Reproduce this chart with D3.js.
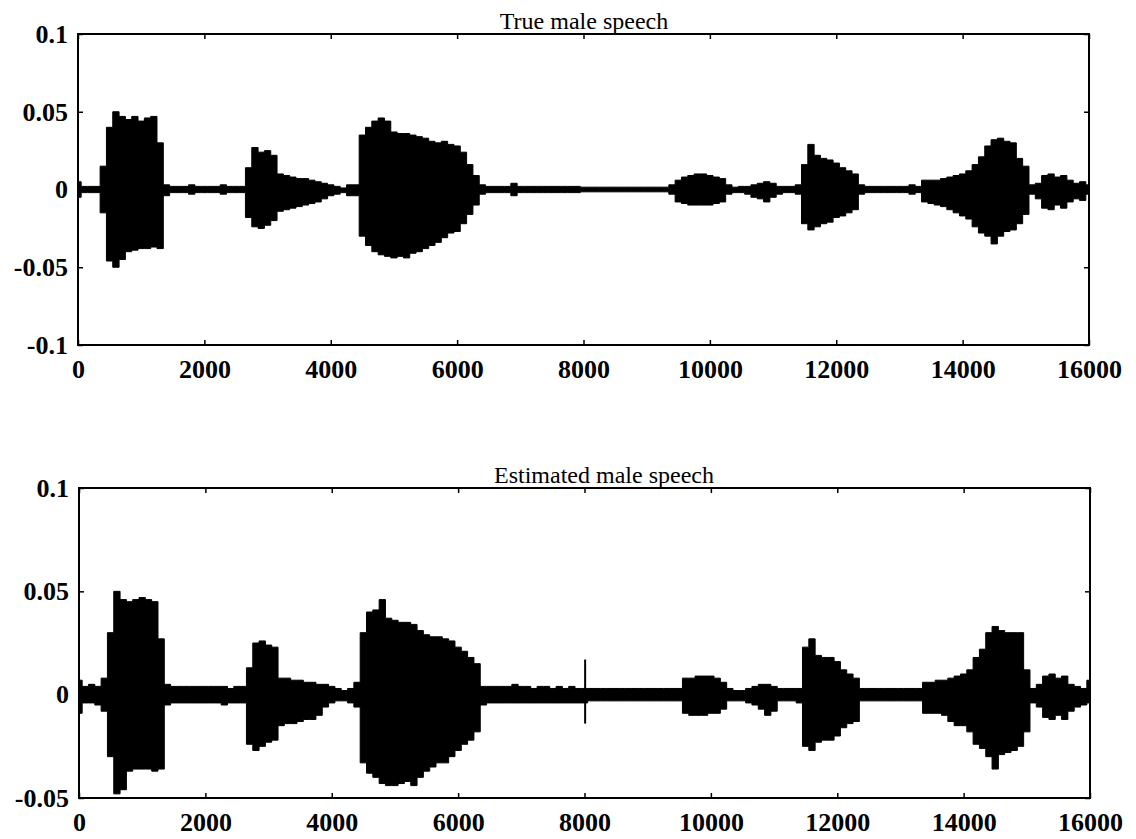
<!DOCTYPE html>
<html>
<head>
<meta charset="utf-8">
<script src="https://cdn.jsdelivr.net/npm/d3@7"></script>
<style>
  body { margin: 0; background: #fff; }
  text { font-family: "Liberation Serif", "Times New Roman", serif; fill: #000; }
</style>
</head>
<body>
<svg width="1136" height="839"></svg>
<script>
// sample index of each envelope reading (every 100 samples)
var samples = d3.range(0, 16001, 100)

// envelope of the true signal, in units of 1e-3
var trueUpper = [
  5, 2, 2, 2, 15, 40, 50, 47, 45, 47,
  44, 46, 47, 30, 3, 2, 2, 2, 3, 2,
  2, 2, 2, 3, 2, 2, 2, 14, 27, 24,
  25, 22, 10, 9, 8, 7, 7, 6, 5, 4,
  3, 2, 1, 3, 3, 35, 40, 44, 46, 44,
  37, 36, 36, 35, 34, 33, 31, 30, 31, 29,
  28, 24, 16, 9, 3, 2, 2, 2, 2, 4,
  2, 2, 2, 2, 2, 2, 2, 2, 2, 2,
  1.5, 1.5, 1.5, 1.5, 1.5, 1.5, 1.5, 1.5, 1.5, 1.5,
  1.5, 1.5, 1.5, 1.5, 3, 6, 8, 9, 10, 10,
  9, 8, 7, 3, 1.5, 2, 2, 3, 4, 5,
  4, 2, 2, 2, 3, 16, 29, 22, 20, 19,
  17, 14, 12, 10, 3, 2, 2, 2, 2, 2,
  2, 2, 3, 2, 6, 6, 6, 7, 8, 9,
  10, 12, 16, 21, 28, 32, 33, 31, 30, 20,
  15, 3, 4, 9, 10, 8, 9, 6, 4, 5,
  3
]
var trueLower = [
  -5, -2, -2, -2, -15, -46, -50, -45, -40, -39,
  -38, -38, -37, -38, -4, -2, -2, -2, -3, -2,
  -2, -2, -2, -3, -2, -2, -2, -18, -24, -25,
  -23, -20, -14, -13, -12, -11, -10, -9, -8, -6,
  -4, -3, -2, -4, -4, -30, -36, -40, -42, -43,
  -44, -43, -44, -41, -40, -38, -36, -34, -31, -28,
  -27, -22, -16, -10, -3, -2, -2, -2, -2, -4,
  -2, -2, -2, -2, -2, -2, -2, -2, -2, -2,
  -1.5, -1.5, -1.5, -1.5, -1.5, -1.5, -1.5, -1.5, -1.5, -1.5,
  -1.5, -1.5, -1.5, -1.5, -3, -8, -9, -10, -10, -10,
  -10, -9, -8, -3, -2, -2, -3, -5, -6, -8,
  -5, -3, -2, -2, -3, -22, -26, -24, -22, -21,
  -18, -17, -15, -13, -3, -2, -2, -2, -2, -2,
  -2, -2, -3, -2, -8, -9, -10, -11, -13, -15,
  -17, -19, -24, -28, -30, -35, -30, -27, -26, -22,
  -16, -3, -6, -12, -13, -10, -12, -8, -6, -7,
  -3
]

// envelope of the estimated signal, in units of 1e-3
var estUpper = [
  7, 4, 5, 4, 8, 30, 50, 46, 45, 46,
  47, 46, 45, 27, 5, 4, 4, 4, 4, 4,
  4, 4, 4, 4, 3, 4, 4, 13, 25, 26,
  24, 23, 8, 8, 7, 7, 6, 6, 5, 5,
  4, 3, 2, 3, 6, 30, 40, 41, 46, 37,
  36, 35, 35, 34, 31, 29, 28, 28, 27, 26,
  23, 21, 18, 15, 4, 4, 4, 4, 4, 5,
  4, 4, 3, 4, 4, 3, 4, 3, 4, 3,
  3, 3, 3, 3, 3, 3, 3, 3, 3, 3,
  3, 3, 3, 3, 3, 3, 8, 8, 9, 9,
  9, 8, 6, 3, 2, 2, 3, 4, 5, 5,
  4, 3, 3, 3, 3, 23, 27, 19, 18, 18,
  16, 12, 10, 8, 3, 3, 3, 3, 3, 3,
  3, 3, 3, 3, 6, 6, 7, 7, 8, 9,
  10, 12, 18, 22, 30, 33, 31, 30, 30, 30,
  12, 3, 5, 9, 10, 8, 9, 5, 4, 3,
  7
]
var estLower = [
  -9, -4, -4, -5, -8, -30, -48, -46, -37, -36,
  -36, -36, -37, -36, -5, -4, -4, -4, -4, -4,
  -4, -4, -4, -5, -4, -4, -4, -24, -27, -25,
  -23, -22, -15, -14, -14, -13, -12, -12, -10, -6,
  -4, -3, -3, -4, -6, -33, -38, -40, -43, -44,
  -44, -43, -42, -44, -40, -37, -35, -33, -33, -30,
  -27, -24, -22, -18, -5, -4, -4, -4, -4, -4,
  -4, -4, -4, -4, -4, -4, -4, -4, -4, -4,
  -4, -3, -3, -3, -3, -3, -3, -3, -3, -3,
  -3, -3, -3, -3, -3, -3, -9, -10, -10, -10,
  -9, -9, -7, -3, -3, -3, -4, -5, -7, -10,
  -8, -3, -3, -3, -4, -25, -27, -23, -22, -22,
  -20, -16, -14, -13, -3, -3, -3, -3, -3, -3,
  -3, -3, -3, -3, -9, -9, -9, -10, -13, -15,
  -15, -18, -24, -26, -30, -36, -29, -28, -27, -25,
  -18, -4, -6, -11, -12, -10, -12, -8, -6, -5,
  -4
]
// narrow clicks: [sample, high, low] in units of 1e-3
var estSpikes = [[8010, 17, -14]]
var trueSpikes = []

var xTicks = [0, 2000, 4000, 6000, 8000, 10000, 12000, 14000, 16000]
var yTicksTop = [-0.1, -0.05, 0, 0.05, 0.1]
var yTicksBottom = [-0.05, 0, 0.05, 0.1]

var svg = d3.select('svg')

function panel (opt) {
  var x = d3.scaleLinear().domain([0, 16000]).range([opt.left, opt.right])
  var y = d3.scaleLinear().domain(opt.yDomain).range([opt.bottom, opt.top])
  var g = svg.append('g')

  g.append('clipPath').attr('id', opt.id)
    .append('rect')
    .attr('x', opt.left).attr('y', opt.top)
    .attr('width', opt.right - opt.left).attr('height', opt.bottom - opt.top)

  var rows = samples.map(function (s, i) {
    return { s: s, hi: opt.upper[i] / 1000, lo: opt.lower[i] / 1000 }
  })
  var area = d3.area()
    .curve(d3.curveStep)
    .x(function (d) { return x(d.s) })
    .y0(function (d) { return y(d.lo) })
    .y1(function (d) { return y(d.hi) })

  var wave = g.append('g').attr('clip-path', 'url(#' + opt.id + ')')
  wave.append('path')
    .datum(rows)
    .attr('fill', '#000')
    .attr('stroke', '#000')
    .attr('stroke-width', 1)
    .attr('d', area)
  wave.selectAll('line.spike')
    .data(opt.spikes)
    .enter().append('line')
    .attr('class', 'spike')
    .attr('x1', function (d) { return x(d[0]) })
    .attr('x2', function (d) { return x(d[0]) })
    .attr('y1', function (d) { return y(d[1] / 1000) })
    .attr('y2', function (d) { return y(d[2] / 1000) })
    .attr('stroke', '#000')
    .attr('stroke-width', 2)

  // box with inward ticks
  var tl = 5
  g.append('g')
    .attr('transform', 'translate(0,' + opt.bottom + ')')
    .call(d3.axisBottom(x).tickValues(xTicks).tickSize(-tl).tickPadding(10).tickFormat(d3.format('d')))
    .call(function (a) { a.select('.domain').remove() })
    .call(function (a) { a.selectAll('text').attr('dy', '0.9em') })
  g.append('g')
    .attr('transform', 'translate(0,' + opt.top + ')')
    .call(d3.axisTop(x).tickValues(xTicks).tickSize(-tl).tickFormat(''))
    .call(function (a) { a.select('.domain').remove() })
  g.append('g')
    .attr('transform', 'translate(' + opt.left + ',0)')
    .call(d3.axisLeft(y).tickValues(opt.yTicks).tickSize(-tl).tickPadding(10).tickFormat(function (d) { return String(d) }))
    .call(function (a) { a.select('.domain').remove() })
  g.append('g')
    .attr('transform', 'translate(' + opt.right + ',0)')
    .call(d3.axisRight(y).tickValues(opt.yTicks).tickSize(-tl).tickFormat(''))
    .call(function (a) { a.select('.domain').remove() })

  g.selectAll('.tick line').attr('stroke', '#000').attr('stroke-width', 1.5)
  g.selectAll('.tick text')
    .style('font-family', '"Liberation Serif", serif')
    .style('font-size', '26px')
    .style('font-weight', 'bold')
    .attr('fill', '#000')

  g.append('rect')
    .attr('x', opt.left).attr('y', opt.top)
    .attr('width', opt.right - opt.left).attr('height', opt.bottom - opt.top)
    .attr('fill', 'none')
    .attr('stroke', '#000')
    .attr('stroke-width', 2)

  g.append('text')
    .attr('x', opt.titleX)
    .attr('y', opt.top - 5)
    .attr('text-anchor', 'middle')
    .style('font-size', '24px')
    .text(opt.title)
}

panel({
  id: 'clipTop', title: 'True male speech', titleX: 584,
  left: 78, right: 1089, top: 34, bottom: 345,
  yDomain: [-0.1, 0.1], yTicks: yTicksTop,
  upper: trueUpper, lower: trueLower, spikes: trueSpikes
})
panel({
  id: 'clipBottom', title: 'Estimated male speech', titleX: 604,
  left: 79, right: 1090, top: 488, bottom: 798,
  yDomain: [-0.05, 0.1], yTicks: yTicksBottom,
  upper: estUpper, lower: estLower, spikes: estSpikes
})
</script>
</body>
</html>
